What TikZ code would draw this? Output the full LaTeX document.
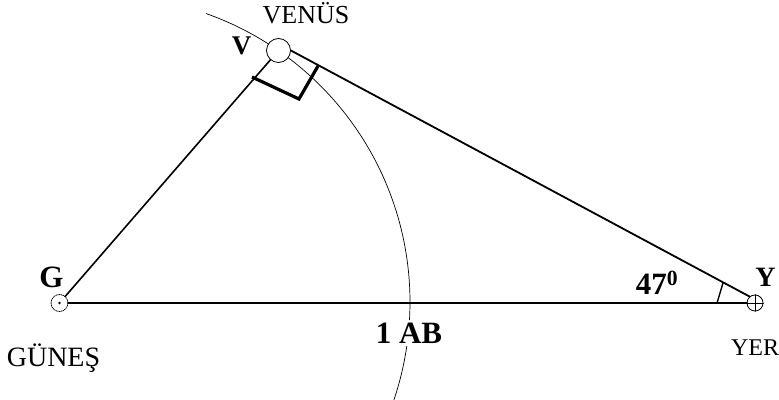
\documentclass[tikz,border=0pt]{standalone}
\usepackage{fontspec}
\setmainfont{Liberation Serif}
\usepackage{tikz}
\usetikzlibrary{arrows.meta}

\begin{document}
\begin{tikzpicture}[x=1pt,y=1pt,line cap=round,
  lbl/.style={font=\fontsize{23}{23}\selectfont,anchor=base,inner sep=0},
  blbl/.style={font=\bfseries\fontsize{31}{31}\selectfont,anchor=base,inner sep=0},
  body/.style={circle,draw,inner sep=0,fill=white,line width=.8pt}]
\useasboundingbox (0,0) rectangle (779,399);
% orbit
\draw[line width=.7pt] (104,97) ++(70.5:306) arc[start angle=70.5,end angle=-20,radius=306];
\node[body,minimum size=24] (venus) at (278.5,348.5) {};
\node[body,densely dotted,minimum size=17] (sun) at (59.5,96) {};\fill (sun) circle (1.3);
\node[body,minimum size=16] (earth) at (755,96) {};
\draw[line width=.7pt] (earth.north)--(earth.south);\draw[line width=.7pt] (earth.west)--(earth.east);
\draw[line width=1.6pt] (sun)--(venus);\draw[line width=1.8pt] (venus.east)--(earth.130);
\draw[line width=2.6pt] (sun)--(earth);
\draw[line width=3.2pt,line cap=butt,line join=miter] (252,322)--(299,300)--(318,333);
\draw[line width=1.4pt] (717,96)--(723,116);
\node[lbl,font=\fontsize{26}{26}\selectfont] (tv) at (306,375) {VENÜS};
\node[lbl,font=\fontsize{28}{28}\selectfont] (tg) at (53.5,33) {GÜNEŞ};
\node[lbl,font=\fontsize{24}{24}\selectfont] (ty) at (755,44) {YER};
\node[blbl,font=\bfseries\fontsize{27}{27}\selectfont] (lv) at (241.5,344) {V};
\node[blbl] (lg) at (51.5,111) {G};
\node[blbl,font=\bfseries\fontsize{28}{28}\selectfont] (ly) at (765.5,112) {Y};
\node[blbl,fill=white,inner sep=3pt] (lab) at (409,56) {1 AB};
\node[blbl] (la) at (657,104) {47\textsuperscript{0}};
\end{tikzpicture}
\end{document}
